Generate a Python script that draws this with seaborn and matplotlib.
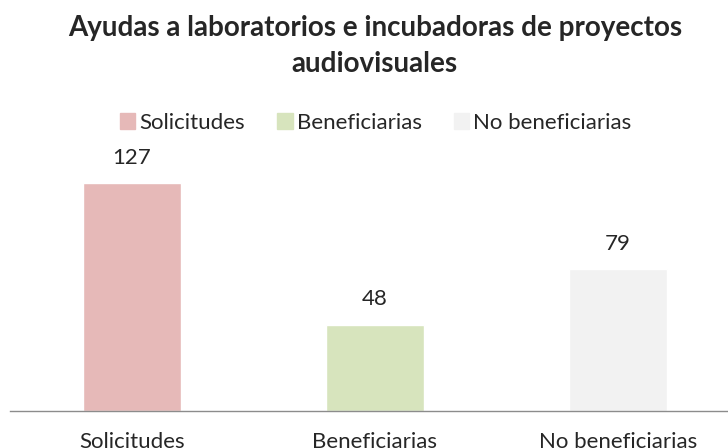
import pandas as pd
import seaborn as sns
import matplotlib.pyplot as plt

# Chart data
categories = ["Solicitudes", "Beneficiarias", "No beneficiarias"]
values = [127, 48, 79]
colors = ["#E6B9B8", "#D7E4BD", "#F2F2F2"]

df = pd.DataFrame({"categoria": categories, "total": values})

sns.set_theme(style="white")
plt.rcParams["font.family"] = ["Lato", "DejaVu Sans"]

fig = plt.figure(figsize=(7.28, 4.48), dpi=100)
ax = fig.add_axes([0.0144, 0.0826, 1.0014, 0.5826])

sns.barplot(data=df, x="categoria", y="total", hue="categoria",
            palette=colors, width=0.403, legend=False, ax=ax, saturation=1)

ax.set_xlim(-0.5, 2.5)
ax.set_ylim(0, 145.3)
ax.set_xlabel("")
ax.set_ylabel("")
ax.set_yticks([])
for side in ["top", "right", "left"]:
    ax.spines[side].set_visible(False)
ax.spines["bottom"].set_color("#8C8C8C")
ax.spines["bottom"].set_linewidth(1.0)
ax.tick_params(axis="x", length=0, pad=15, labelsize=16)

for c in ax.containers:
    ax.bar_label(c, padding=11, fontsize=16)

handles = [plt.Rectangle((0, 0), 1, 1, color=col) for col in colors]
fig.legend(handles, categories, loc="center", bbox_to_anchor=(0.516, 0.7254),
           ncol=3, frameon=False, fontsize=16, handlelength=0.7,
           handleheight=0.7, handletextpad=0.18, columnspacing=1.45)

fig.text(0.515, 1 - 46 / 448,
         "Ayudas a laboratorios e incubadoras de proyectos\naudiovisuales",
         ha="center", va="center", fontsize=20, fontweight="bold",
         linespacing=1.5)

fig.savefig("out.png", dpi=100)
